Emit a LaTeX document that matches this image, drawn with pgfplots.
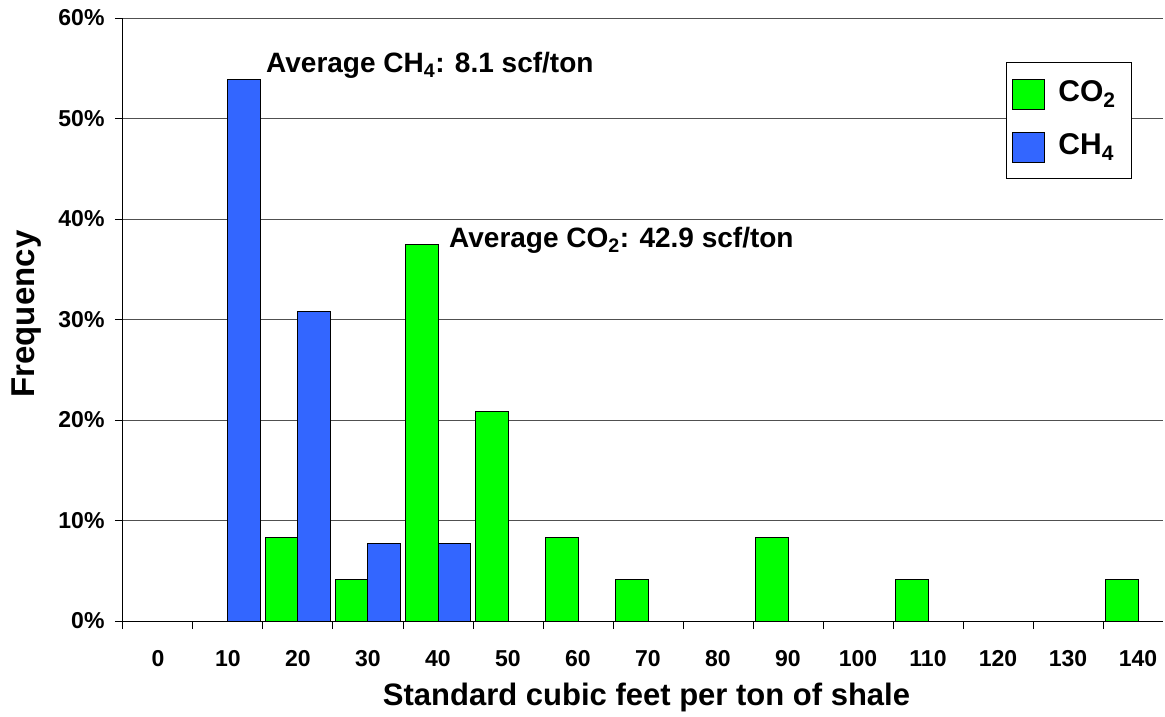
\documentclass[border=0pt]{standalone}
\usepackage{pgfplots}
\pgfplotsset{compat=1.18}
\usepackage{fontspec}
\setmainfont{Liberation Sans}
\definecolor{cgreen}{HTML}{00FF00}
\definecolor{cblue}{HTML}{3366FF}
\definecolor{gridc}{HTML}{505050}
\begin{document}
\begin{tikzpicture}
\begin{axis}[
 scale only axis, width=1040pt, height=603pt,
 xmin=-5, xmax=143.57, ymin=0, ymax=60,
 axis x line=bottom, axis y line=left,
 axis line style={-, black, line width=1pt},
 ytick={0,10,...,60},
 yticklabel={\pgfmathprintnumber{\tick}\%},
 xtick={-5,5,...,135},
 xticklabels={0,10,20,30,40,50,60,70,80,90,100,110,120,130,140},
 xticklabel style={xshift=35pt, yshift=-18pt, font=\fontsize{23}{27}\selectfont\bfseries},
 yticklabel style={xshift=-7pt, font=\fontsize{23}{27}\selectfont\bfseries},
 tick align=outside, major tick length=8pt,
 tick style={black, line width=1pt},
 ymajorgrids, grid style={gridc, line width=1pt},
 /pgf/number format/assume math mode=true,
 xlabel={Standard cubic feet per ton of shale},
 ylabel={Frequency},
 xlabel style={at={(axis description cs:0.5034,-0.1393)}, anchor=base, inner sep=0pt, font=\fontsize{31}{36}\selectfont\bfseries},
 ylabel style={at={(axis description cs:-0.1067,0.509)}, anchor=north, rotate=0, inner sep=0pt, font=\fontsize{33}{38}\selectfont\bfseries},
 ybar, bar width=4.6,
 legend image code/.code={\draw[#1, draw=black, line width=1pt] (0pt,-8pt) rectangle (32pt,22pt);},
 legend style={at={(axis cs:121.14,55.6)}, anchor=north west, draw=black, line width=1pt,
   font=\fontsize{30}{36}\selectfont\bfseries, fill=white,
   nodes={inner sep=0pt, anchor=base west}, row sep=22pt, inner xsep=6pt, inner ysep=16pt, column sep=13pt},
 legend cell align=left,
]
\addplot[fill=cgreen, draw=black, line width=1pt, bar shift=-2.3] coordinates {
 (20,8.33) (30,4.17) (40,37.5) (50,20.83) (60,8.33) (70,4.17) (90,8.33) (110,4.17) (140,4.17)};
\addlegendentry{CO\textsubscript{2}\hspace*{10pt}}
\addplot[fill=cblue, draw=black, line width=1pt, bar shift=2.3] coordinates {
 (10,53.85) (20,30.77) (30,7.69) (40,7.69)};
\addlegendentry{CH\textsubscript{4}\hspace*{10pt}}
\node[anchor=base west, font=\fontsize{28}{32}\selectfont\bfseries, inner sep=0pt] at (axis cs:15.43,54.6) {Average CH\textsubscript{4}: 8.1 scf/ton};
\node[anchor=base west, font=\fontsize{28}{32}\selectfont\bfseries, inner sep=0pt] at (axis cs:41.57,37.2) {Average CO\textsubscript{2}: 42.9 scf/ton};
\end{axis}
\pgfresetboundingbox
\path (current axis.south west) ++(-123pt,-95pt) rectangle ++(1165pt,716pt);
\end{tikzpicture}
\end{document}
